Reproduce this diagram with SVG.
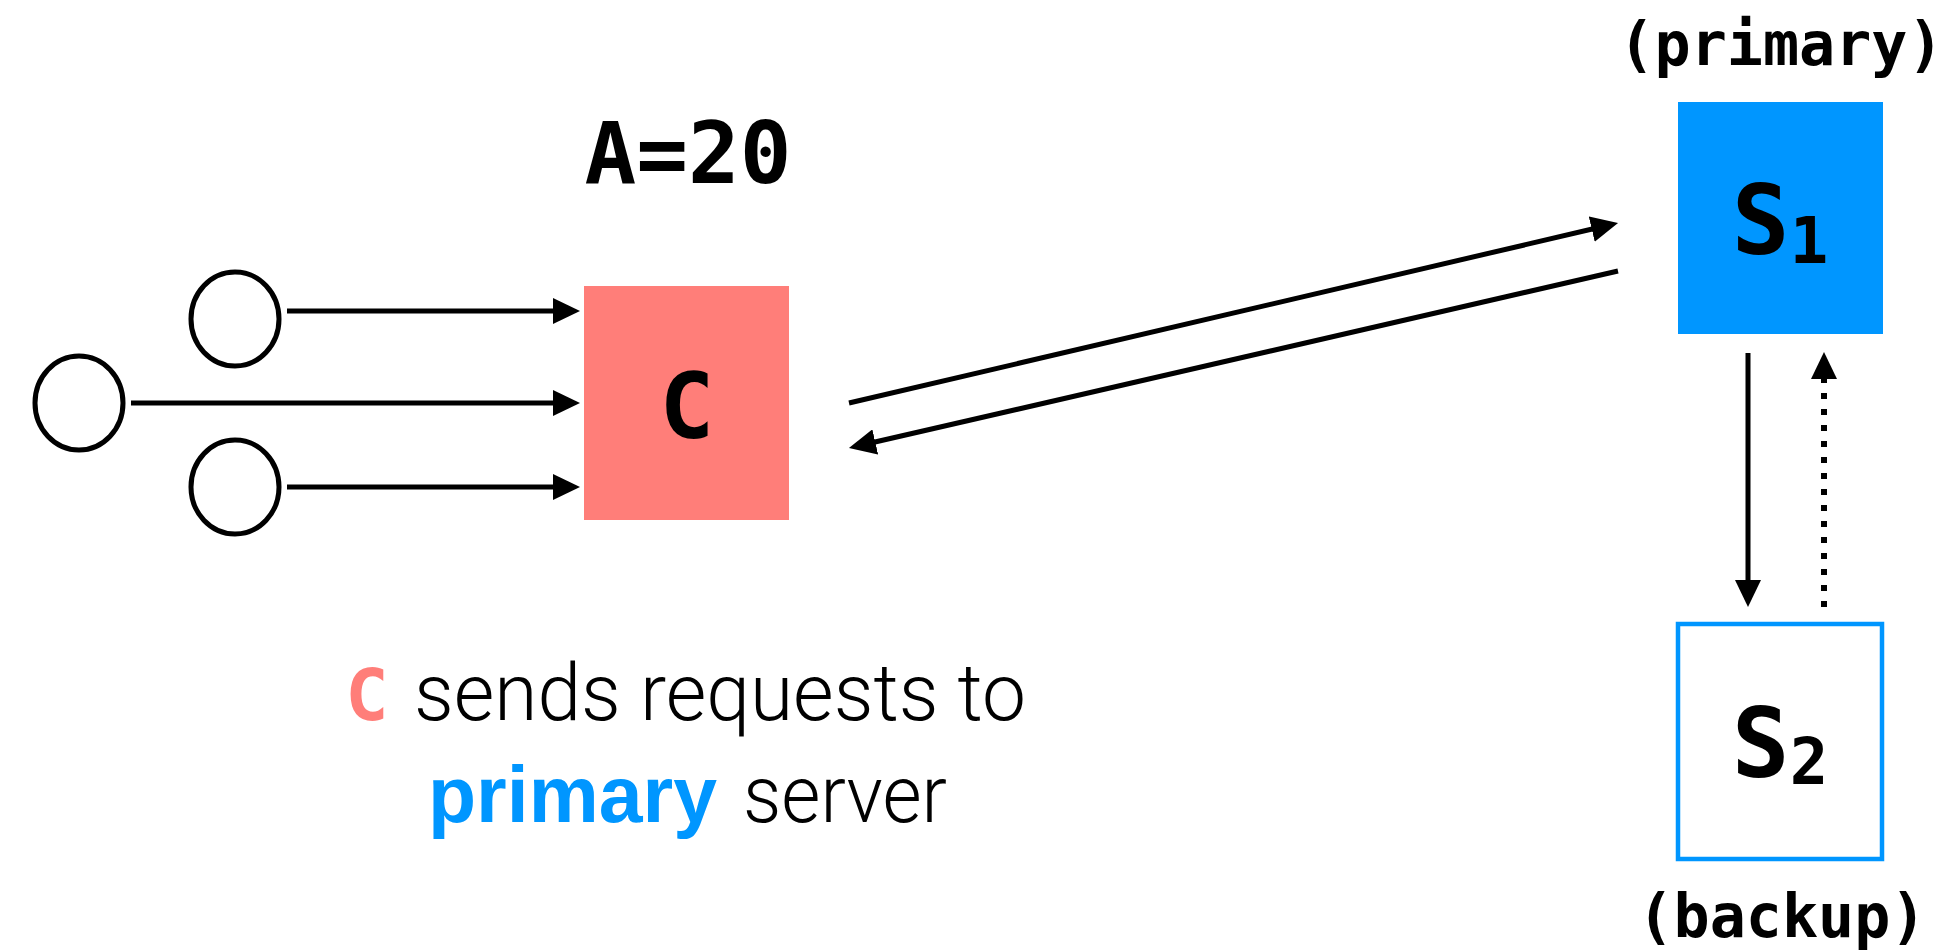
<svg xmlns="http://www.w3.org/2000/svg" width="1942" height="952" viewBox="0 0 1942 952">
  <defs>
    <style>
      .mono { font-family: "DejaVu Sans Mono", "Liberation Mono", monospace; font-weight: bold; fill: #000; font-feature-settings: "zero" 1; font-variant-numeric: slashed-zero; }
      .light { font-family: Roboto, Lato, "Open Sans", "Liberation Sans", sans-serif; font-weight: 300; fill: #000; }
      .bold { font-family: "Liberation Sans", Arial, sans-serif; font-weight: bold; }
      .client { fill: #fff; stroke: #000; stroke-width: 5; }
      .edge { stroke: #000; stroke-width: 5; fill: none; }
      .dotted { stroke-width: 6; stroke-dasharray: 6 10; }
    </style>
    <marker id="head" viewBox="0 0 27 26" markerWidth="27" markerHeight="26" refX="17" refY="13" orient="auto" markerUnits="userSpaceOnUse">
      <path d="M0,0 L27,13 L0,26 Z" fill="#000"/>
    </marker>
  </defs>
  <rect width="1942" height="952" fill="#fff"/>

  <!-- shared value -->
  <g id="value-label">
    <text class="mono" x="688" y="183" font-size="86" text-anchor="middle">A=20</text>
  </g>

  <!-- clients -->
  <g id="client-top"><ellipse class="client" cx="235" cy="319" rx="44" ry="47"/></g>
  <g id="client-mid"><ellipse class="client" cx="79" cy="403" rx="44" ry="47"/></g>
  <g id="client-bottom"><ellipse class="client" cx="235" cy="487" rx="44" ry="47"/></g>

  <!-- coordinator C -->
  <g id="node-c">
    <rect x="584" y="286" width="205" height="234" fill="#FF7E79"/>
    <text class="mono" x="687" y="438" font-size="91" text-anchor="middle">C</text>
  </g>

  <!-- primary server S1 -->
  <g id="node-s1">
    <text class="mono" x="1781" y="65" font-size="60" text-anchor="middle">(primary)</text>
    <rect x="1678" y="102" width="205" height="232" fill="#0096FF"/>
    <text class="mono" x="1780" y="254" font-size="96" text-anchor="middle">S<tspan font-size="64" dy="9">1</tspan></text>
  </g>

  <!-- backup server S2 -->
  <g id="node-s2">
    <rect x="1678" y="624" width="204" height="235" fill="#fff" stroke="#0096FF" stroke-width="4.5"/>
    <text class="mono" x="1780" y="777" font-size="96" text-anchor="middle">S<tspan font-size="64" dy="7">2</tspan></text>
    <text class="mono" x="1782" y="937" font-size="60" text-anchor="middle">(backup)</text>
  </g>

  <!-- connectors -->
  <g id="connectors">
    <line class="edge" x1="287" y1="311" x2="570" y2="311" marker-end="url(#head)"/>
    <line class="edge" x1="131" y1="403" x2="570" y2="403" marker-end="url(#head)"/>
    <line class="edge" x1="287" y1="487" x2="570" y2="487" marker-end="url(#head)"/>
    <line class="edge" x1="849" y1="403" x2="1608.3" y2="225.3" marker-end="url(#head)"/>
    <line class="edge" x1="1618" y1="271" x2="858.7" y2="445.8" marker-end="url(#head)"/>
    <line class="edge" x1="1748" y1="353" x2="1748" y2="597" marker-end="url(#head)"/>
    <line class="edge dotted" x1="1824" y1="607" x2="1824" y2="362" marker-end="url(#head)"/>
  </g>

  <!-- caption -->
  <g id="caption">
    <text class="mono" x="367" y="720" font-size="72" text-anchor="middle" style="fill:#FF7E79">C</text>
    <text class="light" x="414" y="720" font-size="80" textLength="612" lengthAdjust="spacingAndGlyphs">sends requests to</text>
    <text class="bold" x="428" y="822" font-size="80" fill="#0096FF" textLength="289" lengthAdjust="spacingAndGlyphs">primary</text>
    <text class="light" x="743" y="822" font-size="80" textLength="204" lengthAdjust="spacingAndGlyphs">server</text>
  </g>
</svg>
